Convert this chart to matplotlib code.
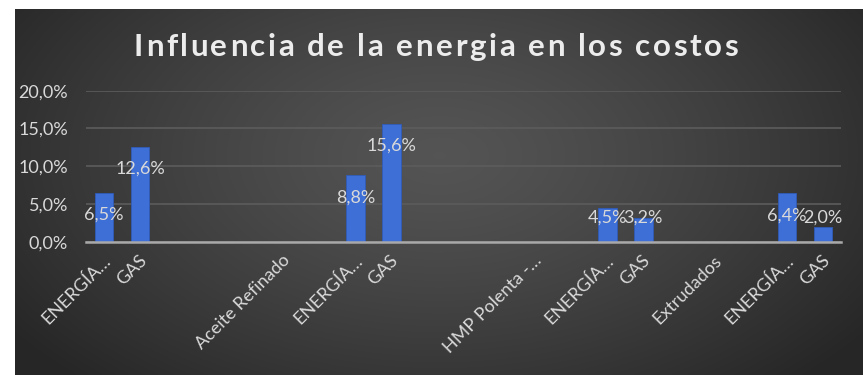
import numpy as np
import matplotlib
matplotlib.use("Agg")
import matplotlib.pyplot as plt
from matplotlib import transforms
from matplotlib.font_manager import FontProperties

# Category axis (blank entries separate the product groups)
categories = [
    "ENERGÍA…", "GAS", "", "", "", "Aceite Refinado", "",
    "ENERGÍA…", "GAS", "", "", "", "HMP Polenta -…", "",
    "ENERGÍA…", "GAS", "", "Extrudados", "", "ENERGÍA…", "GAS",
]
# Share of energy in costs (%), None where no bar is drawn
values = [
    6.5, 12.6, None, None, None, None, None,
    8.8, 15.6, None, None, None, None, None,
    4.5, 3.2, None, None, None, 6.4, 2.0,
]
y_ticks = [0, 5, 10, 15, 20]
title = "Influencia de la energia en los costos"

W, H, DPI = 863, 375, 100
plt.rcParams["font.family"] = ["Lato", "DejaVu Sans"]

fig = plt.figure(figsize=(W / DPI, H / DPI), dpi=DPI, facecolor="white")

# Dark panel with a soft radial gradient
bx0, by0 = 15, 0
bw, bh = W - 15, H - 9
bg = fig.add_axes([bx0 / W, by0 / H, bw / W, bh / H])
gx = np.linspace(0, 1, 400)
gy = np.linspace(0, 1, 200)
X, Y = np.meshgrid(gx, gy)
r = np.sqrt(((X - 0.50) / 0.62) ** 2 + ((Y - 0.40) / 0.85) ** 2)
r = np.clip(r, 0, 1)
c_in, c_out = 0.33, 0.15
shade = c_in + (c_out - c_in) * r ** 1.3
img = np.dstack([shade, shade, shade])
bg.imshow(img, extent=[0, 1, 0, 1], origin="upper", aspect="auto",
          interpolation="bilinear")
bg.set_axis_off()

# Main plotting area
ax = fig.add_axes([86 / W, 1 - 241.7 / H, (841 - 86) / W, (241.7 - 90.7) / H])
ax.set_facecolor("none")

x = np.arange(len(categories))
bar_x = [i for i, v in enumerate(values) if v is not None]
bar_v = [v for v in values if v is not None]
ax.bar(bar_x, bar_v, width=0.52, color="#3e6fd6", edgecolor="#2f5bb8",
       linewidth=0.6, zorder=3)

ax.set_xlim(-0.5, len(categories) - 0.5)
ax.set_ylim(0, 20)
ax.set_yticks(y_ticks)
ax.set_yticklabels([f"{t:.1f}".replace(".", ",") + "%" for t in y_ticks])
ax.yaxis.grid(True, color="#5c5c5c", linewidth=1.2, zorder=0)
ax.set_axisbelow(True)
for s in ["top", "right", "left"]:
    ax.spines[s].set_visible(False)
ax.spines["bottom"].set_color("#a9a9a9")
ax.spines["bottom"].set_linewidth(1.8)
ax.spines["bottom"].set_zorder(4)

label_color = "#d9d9d9"
fs = 13
ax.tick_params(axis="y", length=0, pad=13, labelsize=fs, labelcolor=label_color)
ax.tick_params(axis="x", length=0, pad=0, labelsize=fs, labelcolor=label_color)

ax.set_xticks(x)
ax.set_xticklabels(categories, rotation=45, ha="right", va="center",
                   rotation_mode="anchor")
offset = transforms.ScaledTranslation(4 / DPI, -16 / DPI, fig.dpi_scale_trans)
for lbl in ax.get_xticklabels():
    lbl.set_transform(lbl.get_transform() + offset)

# Value labels just inside the bar tops
for xi, v in zip(bar_x, bar_v):
    ypos = max(v - 2.9, 3.2)
    ax.text(xi, ypos, f"{v:.1f}".replace(".", ",") + "%", ha="center",
            va="center", color=label_color, fontsize=fs, zorder=5)

# Title with extra letter spacing
fp = FontProperties(family=["Lato", "DejaVu Sans"], weight="bold", size=22.6)
renderer = fig.canvas.get_renderer()


def adv(c):
    w1, _, _ = renderer.get_text_width_height_descent("x" + c + "x", fp, ismath=False)
    w0, _, _ = renderer.get_text_width_height_descent("xx", fp, ismath=False)
    return w1 - w0


spacing = 2.6
widths = [adv(c) + spacing for c in title]
total = sum(widths) - spacing
cx, cy = 436, 47
xs = cx - total / 2
for c, w in zip(title, widths):
    fig.text(xs / W, 1 - cy / H, c, fontproperties=fp, color="#ececec",
             ha="left", va="center")
    xs += w

fig.savefig("out.png", dpi=DPI, facecolor="white")
